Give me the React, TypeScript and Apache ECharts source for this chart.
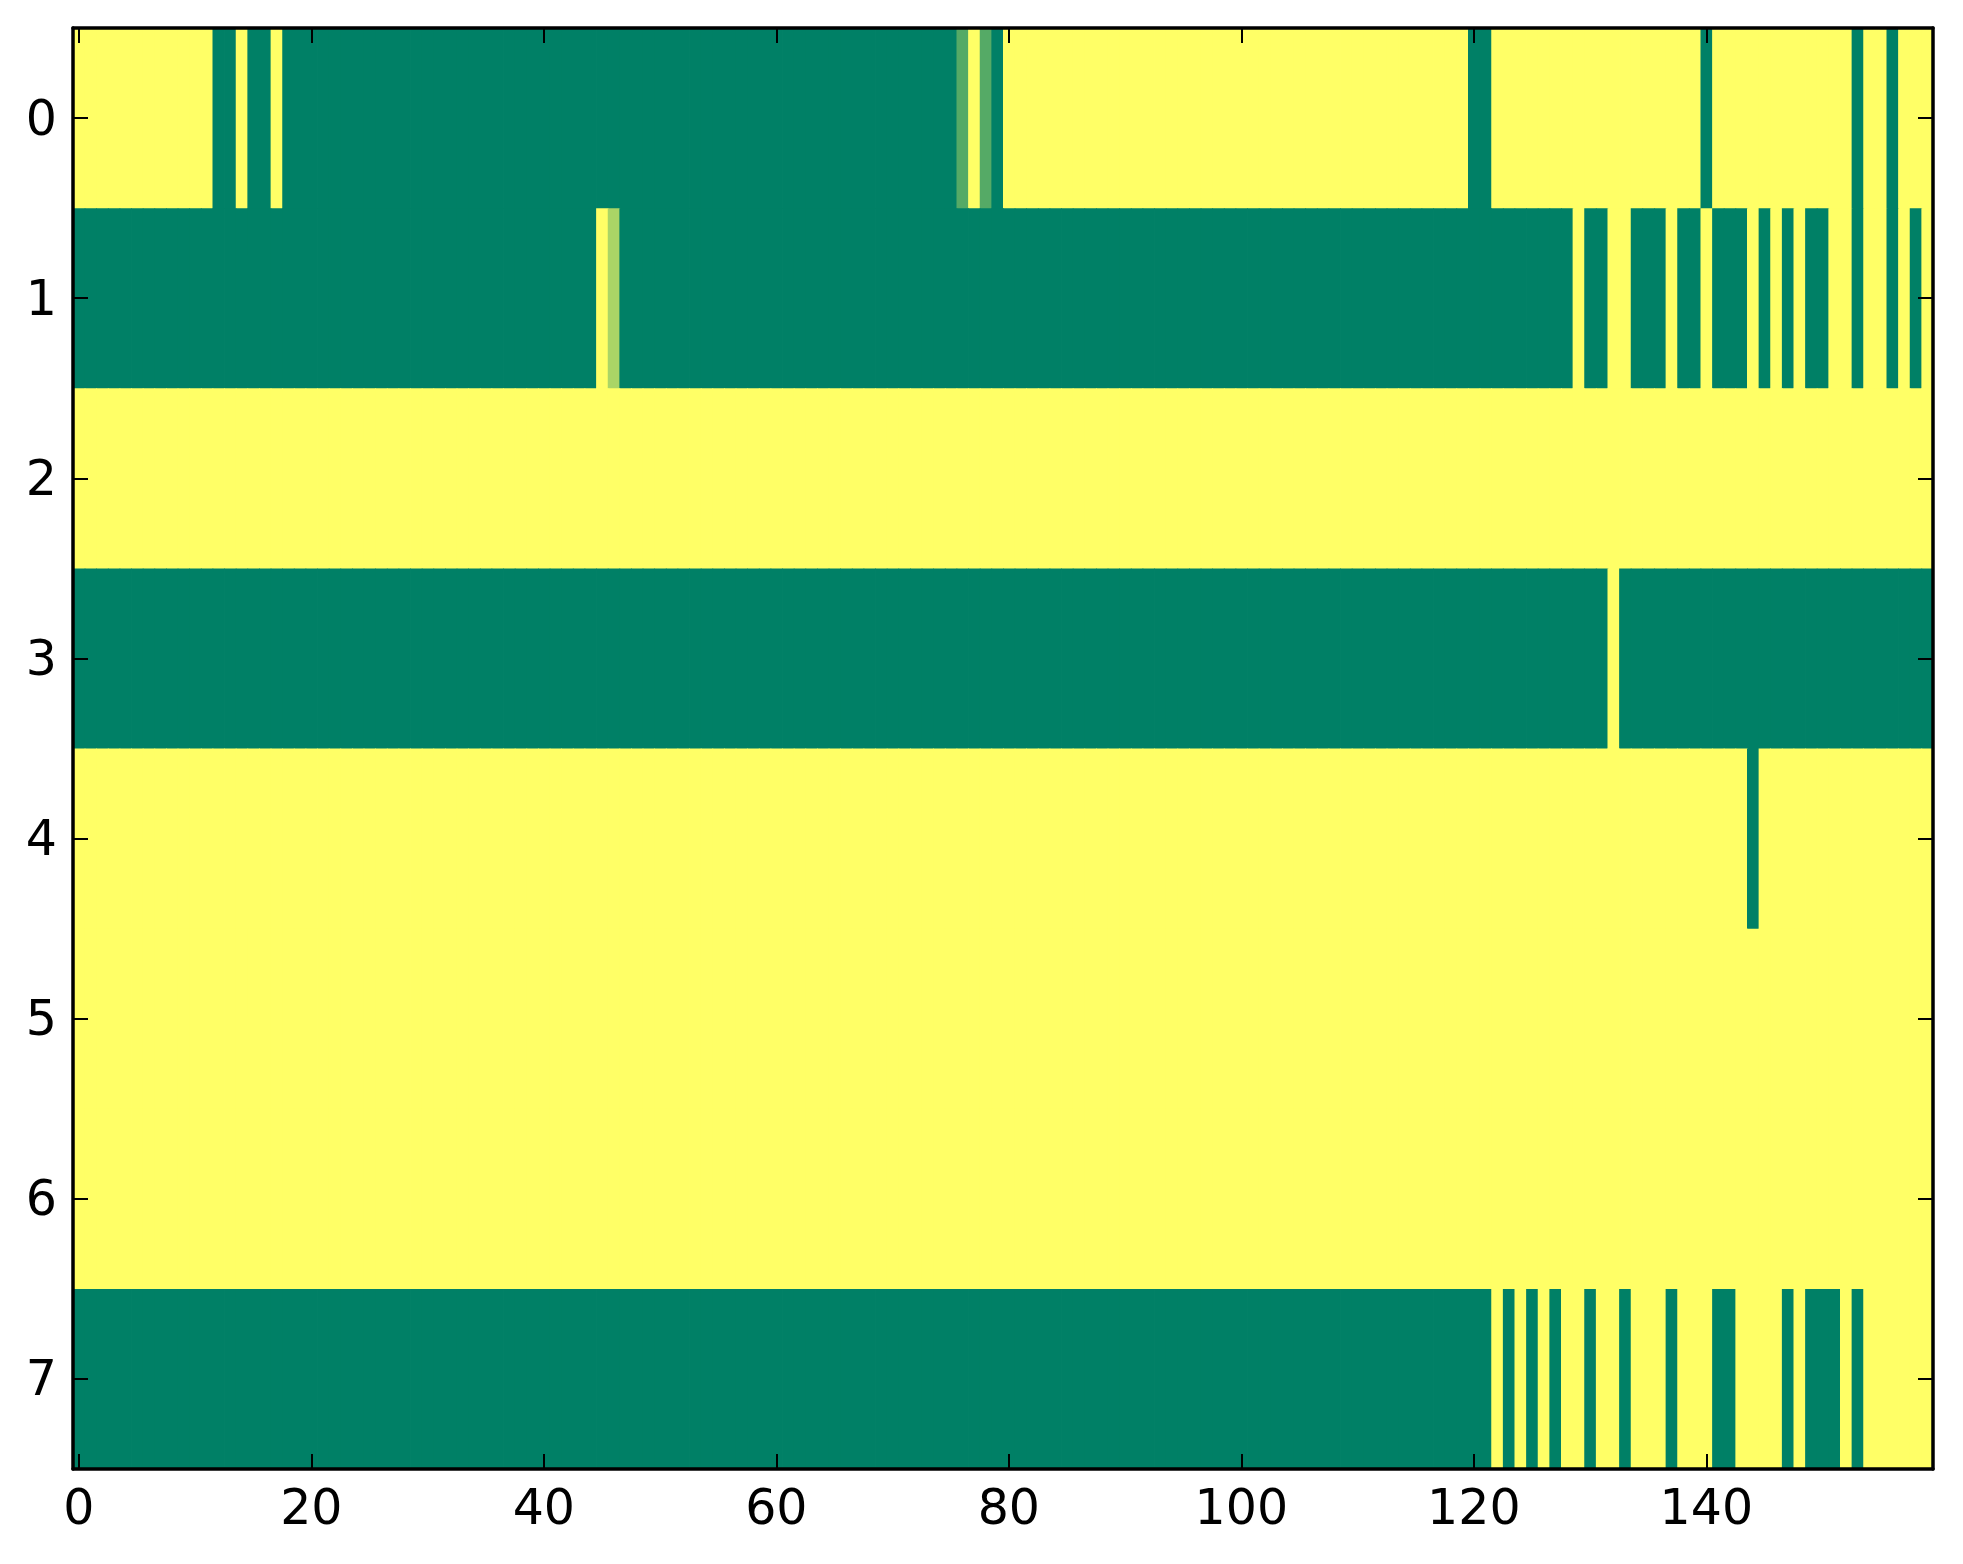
import React, { useEffect, useRef } from "react";
import * as echarts from "echarts";

// 160 columns (0..159), 8 rows (0..7)
const columnCount = 160;
const rowLabels = ["0", "1", "2", "3", "4", "5", "6", "7"];
const xTickValues = [0, 20, 40, 60, 80, 100, 120, 140];

// Each row as run-lengths: [count, value]  (value 0 = green, 1 = yellow)
const row0Runs: [number, number][] = [
  [12, 1], [2, 0], [1, 1], [2, 0], [1, 1], [58, 0], [1, 1 / 3], [1, 1], [1, 1 / 3], [1, 0],
  [40, 1], [2, 0], [18, 1], [1, 0], [12, 1], [1, 0], [2, 1], [1, 0], [3, 1],
];
const row1Runs: [number, number][] = [
  [45, 0], [1, 1], [1, 2 / 3], [82, 0], [1, 1], [2, 0], [2, 1], [3, 0], [1, 1], [2, 0],
  [1, 1], [3, 0], [1, 1], [1, 0], [1, 1], [1, 0], [1, 1], [2, 0], [2, 1], [1, 0],
  [2, 1], [1, 0], [1, 1], [1, 0], [1, 1],
];
const row2Runs: [number, number][] = [[160, 1]];
const row3Runs: [number, number][] = [[132, 0], [1, 1], [27, 0]];
const row4Runs: [number, number][] = [[144, 1], [1, 0], [15, 1]];
const row5Runs: [number, number][] = [[160, 1]];
const row6Runs: [number, number][] = [[160, 1]];
const row7Runs: [number, number][] = [
  [122, 0], [1, 1], [1, 0], [1, 1], [1, 0], [1, 1], [1, 0], [2, 1], [1, 0], [2, 1],
  [1, 0], [3, 1], [1, 0], [3, 1], [2, 0], [4, 1], [1, 0], [1, 1], [3, 0], [1, 1],
  [1, 0], [6, 1],
];

const rowRuns = [row0Runs, row1Runs, row2Runs, row3Runs, row4Runs, row5Runs, row6Runs, row7Runs];

function expandRuns(runs: [number, number][]): number[] {
  const out: number[] = [];
  runs.forEach(([n, v]) => {
    for (let k = 0; k < n; k++) out.push(v);
  });
  return out;
}

const FONT = "DejaVu Sans";

export default function App() {
  const ref = useRef<HTMLDivElement>(null);
  useEffect(() => {
    if (!ref.current) return;
    const chart = echarts.init(ref.current, undefined, { renderer: "svg" });
    const xCats = Array.from({ length: columnCount }, (_, i) => String(i));
    const cells: number[][] = [];
    rowRuns.forEach((runs, r) => {
      expandRuns(runs).forEach((v, c) => cells.push([c, r, v]));
    });
    const isTick = (i: number) => xTickValues.indexOf(i) >= 0;
    const tickStyle = { color: "#000", width: 2 };
    const axisLine = { show: true, lineStyle: { color: "#000", width: 3.5 } };
    chart.setOption({
      animation: false,
      backgroundColor: "#fff",
      grid: { left: 73, right: 30, top: 28, bottom: 95, containLabel: false },
      visualMap: {
        show: false,
        type: "continuous",
        min: 0,
        max: 1,
        dimension: 2,
        seriesIndex: 0,
        inRange: { color: ["#008066", "#ffff66"] },
      },
      xAxis: [
        {
          type: "category",
          data: xCats,
          position: "bottom",
          z: 5,
          axisLine,
          axisTick: {
            show: true,
            inside: true,
            length: 15,
            alignWithLabel: true,
            interval: (i: number) => isTick(i),
            lineStyle: tickStyle,
          },
          axisLabel: {
            show: true,
            interval: (i: number) => isTick(i),
            margin: 14,
            fontFamily: FONT,
            fontSize: 49,
            color: "#000",
          },
          splitLine: { show: false },
        },
        {
          type: "category",
          data: xCats,
          position: "top",
          z: 5,
          axisLine,
          axisTick: {
            show: true,
            inside: true,
            length: 15,
            alignWithLabel: true,
            interval: (i: number) => isTick(i),
            lineStyle: tickStyle,
          },
          axisLabel: { show: false },
          splitLine: { show: false },
        },
      ],
      yAxis: [
        {
          type: "category",
          data: rowLabels,
          inverse: true,
          position: "left",
          z: 5,
          axisLine,
          axisTick: { show: true, inside: true, length: 15, alignWithLabel: true, lineStyle: tickStyle },
          axisLabel: { show: true, margin: 16, fontFamily: FONT, fontSize: 49, color: "#000" },
          splitLine: { show: false },
        },
        {
          type: "category",
          data: rowLabels,
          inverse: true,
          position: "right",
          z: 5,
          axisLine,
          axisTick: { show: true, inside: true, length: 15, alignWithLabel: true, lineStyle: tickStyle },
          axisLabel: { show: false },
          splitLine: { show: false },
        },
      ],
      series: [
        {
          type: "custom",
          xAxisIndex: 0,
          yAxisIndex: 0,
          z: 1,
          encode: { x: 0, y: 1 },
          data: cells,
          renderItem: (params: any, api: any) => {
            const p = api.coord([api.value(0), api.value(1)]);
            const s = api.size([1, 1]);
            return {
              type: "rect",
              shape: { x: p[0] - s[0] / 2, y: p[1] - s[1] / 2, width: s[0] + 0.8, height: s[1] + 0.8 },
              style: { fill: api.visual("color"), stroke: null },
            };
          },
        },
      ],
    });
    return () => chart.dispose();
  }, []);
  return (
    <div
      ref={ref}
      style={{ position: "absolute", left: 0, top: 0, width: 1963, height: 1564, background: "#fff" }}
    />
  );
}
